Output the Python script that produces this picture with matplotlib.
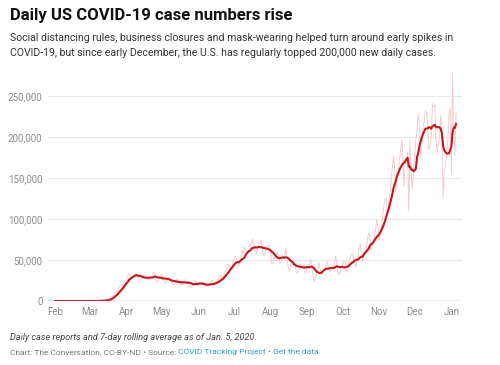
import matplotlib.pyplot as plt
import matplotlib.dates as mdates
import pandas as pd

plt.rcParams['font.family'] = ['Roboto', 'DejaVu Sans']

# daily new cases in thousands, Feb 1 2020 .. Jan 5 2021
feb = [0, 0, 0, 0, 0, 0, 0, 0, 0, 0, 0, 0, 0, 0, 0, 0, 0, 0, 0, 0,
       0, 0, 0, 0, 0, 0, 0, 0, 0]
mar = [0, 0, 0, 0.1, 0.1, 0.1, 0.1, 0.2, 0.2, 0.3, 0.4, 0.5, 0.6, 0.8, 1.0,
       1.2, 1.8, 3.0, 4.5, 5.6, 6.9, 9.0, 10.0, 10.5, 12.0, 17.0, 19.0, 19.5,
       19.0, 21.0, 25.0]
apr = [26, 29, 32, 34, 26, 29, 31, 32, 34, 34, 30, 27, 25, 26, 29, 31, 32, 29,
       26, 27, 26, 29, 31, 35, 34, 26, 23, 24, 27, 30]
may = [33, 30, 26, 22, 23, 25, 28, 28, 26, 22, 19, 22, 22, 27, 26, 24, 19, 21,
       20, 23, 26, 24, 23, 20, 18, 17, 19, 22, 25, 24, 21]
jun = [18, 20, 20, 21, 23, 22, 18, 17, 18, 21, 22, 24, 25, 19, 19, 22, 25, 27,
       31, 32, 26, 27, 33, 37, 39, 45, 43, 41, 40, 45]
jul = [50, 54, 55, 45, 43, 45, 53, 62, 58, 66, 63, 58, 58, 62, 66, 71, 76, 63,
       63, 56, 63, 69, 70, 74, 65, 56, 55, 61, 66, 68, 69]
aug = [58, 47, 45, 52, 53, 56, 60, 54, 46, 47, 55, 55, 52, 64, 52, 42, 37, 43,
       47, 45, 48, 46, 35, 34, 39, 44, 45, 46, 43, 35, 35]
sep = [41, 44, 44, 51, 43, 31, 24, 27, 33, 36, 47, 40, 34, 33, 38, 39, 44, 48,
       41, 36, 37, 39, 38, 44, 55, 47, 35, 32, 37, 41]
oct_ = [45, 49, 49, 35, 37, 42, 50, 56, 58, 54, 46, 41, 48, 51, 64, 70, 57, 48,
        59, 61, 63, 75, 83, 80, 62, 66, 73, 79, 89, 99, 89]
nov = [74, 84, 92, 103, 117, 125, 126, 105, 118, 130, 142, 161, 177, 163, 133,
       157, 155, 170, 183, 196, 178, 140, 171, 173, 181, 110, 195, 154, 138, 157]
dec = [180, 196, 210, 229, 213, 176, 189, 212, 219, 232, 231, 215, 185, 189,
       199, 241, 237, 239, 196, 181, 192, 197, 227, 205, 126, 160, 165, 180,
       196, 228, 235]
jan = [155, 278, 208, 178, 230]

daily = feb + mar + apr + may + jun + jul + aug + sep + oct_ + nov + dec + jan
dates = pd.date_range('2020-02-01', periods=len(daily), freq='D')
cases = pd.Series(daily, index=dates) * 1000
rolling = cases.rolling(7, min_periods=1).mean()

yticks = [0, 50000, 100000, 150000, 200000, 250000]
month_starts = pd.date_range('2020-02-01', '2021-01-01', freq='MS')

fig = plt.figure(figsize=(5, 3.65), dpi=100)
ax = fig.add_axes([0.096, 0.1753, 0.828, 0.629])

ax.plot(cases.index, cases.values, color='#f5c8c8', lw=0.65, zorder=2)
ax.plot(rolling.index, rolling.values, color='#c4161c', lw=1.5, zorder=3)

ax.set_xlim(pd.Timestamp('2020-01-26'), pd.Timestamp('2021-01-10'))
ax.set_ylim(0, 280000)
ax.set_yticks(yticks)
ax.set_yticklabels([f'{v:,}' for v in yticks])
ax.set_xticks(month_starts)
ax.xaxis.set_major_formatter(mdates.DateFormatter('%b'))
for v in yticks[1:]:
    ax.axhline(v, color='#e8e8e8', lw=0.8, zorder=1)
ax.axhline(0, color='#999999', lw=1.0, zorder=4)
for s in ax.spines.values():
    s.set_visible(False)
ax.tick_params(axis='both', length=0, labelsize=7, colors='#8c8c8c', pad=4)

fig.text(0.02, 0.958, 'Daily US COVID-19 case numbers rise', fontsize=12,
         fontweight='bold', color='#111111', va='center')
fig.text(0.02, 0.896, 'Social distancing rules, business closures and mask-wearing helped turn around early spikes in',
         fontsize=7.6, color='#333333', va='center')
fig.text(0.02, 0.855, 'COVID-19, but since early December, the U.S. has regularly topped 200,000 new daily cases.',
         fontsize=7.6, color='#333333', va='center')

fig.text(0.02, 0.074, 'Daily case reports and 7-day rolling average as of Jan. 5, 2020.',
         fontsize=6.6, style='italic', color='#444444', va='center')

# source line, links in blue
parts = [('Chart: The Conversation, CC-BY-ND \u2022 Source: ', '#777777'),
         ('COVID Tracking Project', '#2a9fd6'),
         (' \u2022 ', '#777777'),
         ('Get the data', '#2a9fd6')]
last = fig.text(0.02, 0.035, parts[0][0], fontsize=6.0, color=parts[0][1], va='center')
for txt, col in parts[1:]:
    last = ax.annotate(txt, xy=(1, 0.5), xycoords=last, va='center', ha='left',
                       fontsize=6.0, color=col, annotation_clip=False)

fig.savefig('out.png', dpi=100)
